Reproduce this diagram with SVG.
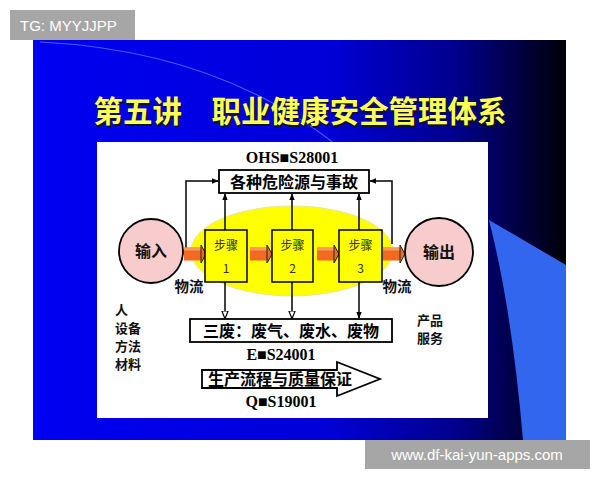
<svg xmlns="http://www.w3.org/2000/svg" width="600" height="480" viewBox="0 0 600 480">
<defs>
<linearGradient id="bg" x1="0" y1="0" x2="1" y2="0">
<stop offset="0" stop-color="#0000f2"/>
<stop offset="0.55" stop-color="#0000d8"/>
<stop offset="0.8" stop-color="#00008a"/>
<stop offset="1" stop-color="#000008"/>
</linearGradient>
<marker id="af" viewBox="0 0 10 10" refX="9" refY="5" markerWidth="7" markerHeight="7" orient="auto" markerUnits="userSpaceOnUse">
<path d="M0,1 L10,5 L0,9 Z" fill="#000"/>
</marker>
<marker id="ao" viewBox="0 0 10 10" refX="9" refY="5" markerWidth="8" markerHeight="8" orient="auto" markerUnits="userSpaceOnUse">
<path d="M0,1 L10,5 L0,9 Z" fill="#fff" stroke="#000" stroke-width="1.5"/>
</marker>
<g id="orangeArrow">
<rect x="0" y="-6.5" width="17" height="13" fill="#f26a22"/>
<rect x="0" y="-6.5" width="17" height="3" fill="#f79a5c"/>
<path d="M17,-9 L22,0 L17,9 Z" fill="#f26a22" stroke="#222" stroke-width="1"/>
</g>
</defs>
<style>
.cjk{font-family:"Noto Sans CJK SC","Liberation Sans",sans-serif;font-weight:bold;}
.std{font-family:"Liberation Serif","DejaVu Serif",serif;font-weight:bold;font-size:16px;fill:#000;}
.box{fill:#fff;stroke:#000;stroke-width:1.8;}
.step{fill:#ffff00;stroke:#000;stroke-width:1.5;}
.steptxt{font-family:"Noto Sans CJK SC","Liberation Sans",sans-serif;font-size:12px;fill:#333;}
.line{fill:none;stroke:#000;stroke-width:1.5;}
.circ{fill:#f8cccc;stroke:#000;stroke-width:1.8;}
.side{font-family:"Noto Sans CJK SC",sans-serif;font-weight:bold;font-size:13px;fill:#111;}
.wm{fill:#a6a6a6;}
.wmt{font-family:"Liberation Sans","DejaVu Sans",sans-serif;font-size:15px;fill:#fff;}
</style>
<rect width="600" height="480" fill="#fff"/>
<g id="slide">
<rect x="33" y="40" width="533" height="400" fill="url(#bg)"/>
<path d="M40,42 Q 240,52 365,170" fill="none" stroke="#6f7fff" stroke-width="1.2" opacity="0.7"/>
<path d="M489,220 L566,265 L566,440 L523,440 Q 512,310 489,220 Z" fill="#3366ee"/>
<text x="300" y="122" text-anchor="middle" class="cjk" font-size="29.5" fill="#111" transform="translate(1.5,1.5)">第五讲　职业健康安全管理体系</text>
<text x="300" y="122" text-anchor="middle" class="cjk" font-size="29.5" fill="#ffff55">第五讲　职业健康安全管理体系</text>
<rect x="97" y="142" width="391" height="276" fill="#fff"/>
</g>
<g id="ellipse"><ellipse cx="292" cy="251" rx="101" ry="45" fill="#ffff00" stroke="#e6e6a0" stroke-width="1"/></g>
<g id="connectors">
<path class="line" d="M186,248 V181 H218" marker-end="url(#af)"/>
<path class="line" d="M392,244 V181 H370" marker-end="url(#af)"/>
<path class="line" d="M225,230 V194" marker-end="url(#af)"/>
<path class="line" d="M292,230 V194" marker-end="url(#af)"/>
<path class="line" d="M359,230 V194" marker-end="url(#af)"/>
<path class="line" d="M225,282 V318" marker-end="url(#ao)"/>
<path class="line" d="M292,282 V318" marker-end="url(#ao)"/>
<path class="line" d="M359,282 V318" marker-end="url(#af)"/>
<use href="#orangeArrow" x="184" y="254"/>
<use href="#orangeArrow" x="250" y="254"/>
<use href="#orangeArrow" x="317" y="254"/>
<use href="#orangeArrow" x="383" y="254"/>
</g>
<g id="ohsas"><text x="292" y="163" text-anchor="middle" class="std">OHS■S28001</text></g>
<g id="hazard">
<rect class="box" x="219" y="170" width="150" height="23"/>
<text x="294" y="188" text-anchor="middle" class="cjk" font-size="16" fill="#000">各种危险源与事故</text>
</g>
<g id="input">
<circle class="circ" cx="151" cy="251" r="32"/>
<text x="151" y="257" text-anchor="middle" class="cjk" font-size="16" fill="#111">输入</text>
</g>
<g id="output">
<circle class="circ" cx="439" cy="252" r="34"/>
<text x="439" y="258" text-anchor="middle" class="cjk" font-size="16" fill="#111">输出</text>
</g>
<g id="step1">
<rect class="step" x="205" y="230" width="42" height="52"/>
<text x="226" y="250" text-anchor="middle" class="steptxt">步骤</text>
<text x="226" y="273" text-anchor="middle" class="steptxt">1</text>
</g>
<g id="step2">
<rect class="step" x="272" y="230" width="41" height="52"/>
<text x="292.5" y="250" text-anchor="middle" class="steptxt">步骤</text>
<text x="292.5" y="273" text-anchor="middle" class="steptxt">2</text>
</g>
<g id="step3">
<rect class="step" x="339" y="230" width="43" height="52"/>
<text x="360.5" y="250" text-anchor="middle" class="steptxt">步骤</text>
<text x="360.5" y="273" text-anchor="middle" class="steptxt">3</text>
</g>
<g id="flowlabels">
<text x="189" y="292" text-anchor="middle" class="cjk" font-size="14.5" fill="#111">物流</text>
<text x="397" y="292" text-anchor="middle" class="cjk" font-size="14.5" fill="#111">物流</text>
</g>
<g id="waste">
<rect class="box" x="190" y="319" width="202" height="23"/>
<text x="291" y="337" text-anchor="middle" class="cjk" font-size="16" fill="#000">三废：废气、废水、废物</text>
</g>
<g id="ems"><text x="281" y="360" text-anchor="middle" class="std">E■S24001</text></g>
<g id="quality">
<path class="box" d="M202,370 H337 V362 L380,379 L337,396 V388 H202 Z"/>
<text x="280" y="385" text-anchor="middle" class="cjk" font-size="16" fill="#000">生产流程与质量保证</text>
</g>
<g id="qms"><text x="281" y="407" text-anchor="middle" class="std">Q■S19001</text></g>
<g id="inputs">
<text x="115" y="315" class="side">人</text>
<text x="115" y="333" class="side">设备</text>
<text x="115" y="351" class="side">方法</text>
<text x="115" y="369" class="side">材料</text>
</g>
<g id="outputs">
<text x="417" y="325" class="side">产品</text>
<text x="417" y="343" class="side">服务</text>
</g>
<g id="watermarks">
<rect class="wm" x="10" y="10" width="125" height="30"/>
<text x="20" y="31" class="wmt">TG: MYYJJPP</text>
<rect class="wm" x="365" y="440" width="225" height="29"/>
<text x="477" y="460" text-anchor="middle" class="wmt">www.df-kai-yun-apps.com</text>
</g>
</svg>
